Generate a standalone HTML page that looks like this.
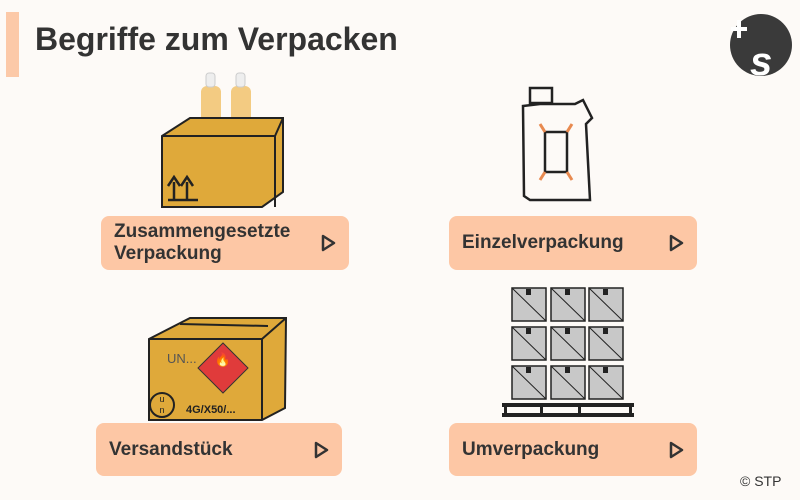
<!DOCTYPE html>
<html><head><meta charset="utf-8"><style>
body{margin:0;width:800px;height:500px;background:#fdfaf7;font-family:"Liberation Sans",sans-serif;overflow:hidden;position:relative}
.bar{position:absolute;left:6px;top:12px;width:13px;height:65px;background:#fcc9a8}
h1{position:absolute;left:35px;top:21px;margin:0;font-size:32px;font-weight:bold;color:#333;letter-spacing:0px}
.btn{position:absolute;background:#fdc7a5;border-radius:8px;color:#333;font-weight:bold;font-size:19px;line-height:22px}
.btn span{position:absolute;left:13px;top:50%;transform:translateY(-50%)}
.btn svg{position:absolute;right:12px;top:50%;margin-top:-9px}
.copy{position:absolute;left:740px;top:473px;font-size:14px;color:#333}
</style></head><body>
<div class="bar"></div>
<h1>Begriffe zum Verpacken</h1>
<svg style="position:absolute;left:0;top:0" width="800" height="500">
<circle cx="761" cy="45" r="31" fill="#3a3a3a"/>
<path d="M731 29h16M739 20v18" stroke="#fff" stroke-width="4"/>
<text x="750" y="75" font-size="40" font-weight="bold" fill="#fff" font-style="italic" font-family="Liberation Sans">s</text>
<!-- bottles -->
<rect x="201" y="86" width="20" height="40" rx="6" fill="#f0bf64" opacity=".8"/>
<rect x="206" y="73" width="9" height="14" rx="3" fill="#eee" stroke="#ccc"/>
<rect x="231" y="86" width="20" height="40" rx="6" fill="#f0bf64" opacity=".8"/>
<rect x="236" y="73" width="9" height="14" rx="3" fill="#eee" stroke="#ccc"/>
<!-- top box -->
<polygon points="162,136 190,118 283,118 283,192 262,207 162,207" fill="#dfa93a"/>
<path d="M162 136L190 118H283V192L262 207H162ZM162 136H275L283 118M275 136V207" fill="none" stroke="#222" stroke-width="2"/>
<path d="M168 200h30M174 199v-17M187 199v-17M168 186l6-9 6 9M181 186l6-9 6 9" stroke="#222" stroke-width="2.5" fill="none"/>
<!-- jerrycan -->
<path d="M523 106L540 104H575L583 100L592 118L586 124L590 200L530 200L524 196Z" fill="none" stroke="#222" stroke-width="2.5"/>
<rect x="530" y="88" width="22" height="15" fill="none" stroke="#222" stroke-width="2.5"/>
<path d="M545 132h22v40h-22z" fill="none" stroke="#222" stroke-width="2.5"/>
<path d="M540 124l5 8M572 124l-5 8M540 180l5-8M572 180l-5-8" stroke="#e88a50" stroke-width="3"/>
<!-- shipping box -->
<polygon points="149,339 190,318 286,318 285,408 262,420 149,420" fill="#dfa93a"/>
<path d="M149 339L190 318H286L285 408L262 420H149ZM149 339H262L286 318M262 339V420M180 324L268 326" fill="none" stroke="#222" stroke-width="2"/>
<polygon points="223,343 248,368 223,393 198,368" fill="#e03b3b" stroke="#333"/>
<text x="223" y="364" font-size="13" text-anchor="middle" fill="#222">🔥</text>
<text x="167" y="363" font-size="13" fill="#555">UN...</text>
<circle cx="162" cy="405" r="12" fill="none" stroke="#222" stroke-width="2"/>
<text x="162" y="402" font-size="9" text-anchor="middle" fill="#222">u</text>
<text x="162" y="413" font-size="9" text-anchor="middle" fill="#222">n</text>
<text x="186" y="413" font-size="11" font-weight="bold" fill="#222">4G/X50/...</text>
<!-- pallet -->
<g fill="#c8c8c8" stroke="#222" stroke-width="1.5">
<rect x="512" y="288" width="34" height="33"/><rect x="551" y="288" width="34" height="33"/><rect x="589" y="288" width="34" height="33"/>
<rect x="512" y="327" width="34" height="33"/><rect x="551" y="327" width="34" height="33"/><rect x="589" y="327" width="34" height="33"/>
<rect x="512" y="366" width="34" height="33"/><rect x="551" y="366" width="34" height="33"/><rect x="589" y="366" width="34" height="33"/>
</g>
<g stroke="#222" stroke-width="1"><path d="M512 288l34 33M551 288l34 33M589 288l34 33M512 327l34 33M551 327l34 33M589 327l34 33M512 366l34 33M551 366l34 33M589 366l34 33"/></g>
<g fill="#222"><rect x="526" y="289" width="5" height="6"/><rect x="565" y="289" width="5" height="6"/><rect x="603" y="289" width="5" height="6"/><rect x="526" y="328" width="5" height="6"/><rect x="565" y="328" width="5" height="6"/><rect x="603" y="328" width="5" height="6"/><rect x="526" y="367" width="5" height="6"/><rect x="565" y="367" width="5" height="6"/><rect x="603" y="367" width="5" height="6"/>
<rect x="502" y="403" width="132" height="4"/><rect x="502" y="413" width="132" height="4"/>
<rect x="504" y="403" width="3" height="14"/><rect x="540" y="403" width="3" height="14"/><rect x="578" y="403" width="3" height="14"/><rect x="629" y="403" width="3" height="14"/></g>
</svg>
<div class="btn" style="left:101px;top:216px;width:248px;height:54px"><span>Zusammengesetzte<br>Verpackung</span><svg width="18" height="18"><path d="M4 2L15 9L4 16Z" fill="none" stroke="#333" stroke-width="2.5" stroke-linejoin="round"/></svg></div>
<div class="btn" style="left:449px;top:216px;width:248px;height:54px"><span>Einzelverpackung</span><svg width="18" height="18"><path d="M4 2L15 9L4 16Z" fill="none" stroke="#333" stroke-width="2.5" stroke-linejoin="round"/></svg></div>
<div class="btn" style="left:96px;top:423px;width:246px;height:53px"><span>Versandstück</span><svg width="18" height="18"><path d="M4 2L15 9L4 16Z" fill="none" stroke="#333" stroke-width="2.5" stroke-linejoin="round"/></svg></div>
<div class="btn" style="left:449px;top:423px;width:248px;height:53px"><span>Umverpackung</span><svg width="18" height="18"><path d="M4 2L15 9L4 16Z" fill="none" stroke="#333" stroke-width="2.5" stroke-linejoin="round"/></svg></div>
<div class="copy">© STP</div>
</body></html>
